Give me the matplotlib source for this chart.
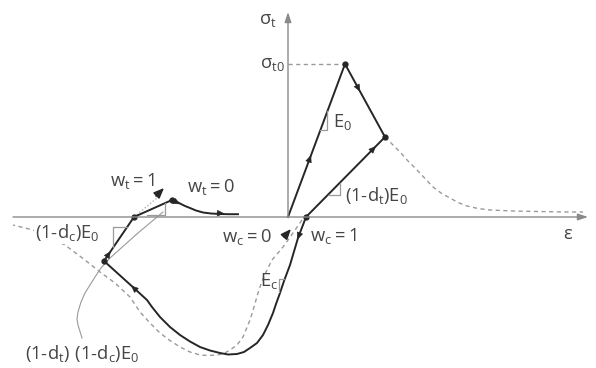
import numpy as np
import matplotlib
matplotlib.use("Agg")
import matplotlib.pyplot as plt

plt.rcParams["font.family"] = ["Open Sans", "DejaVu Sans"]
plt.rcParams["mathtext.fontset"] = "custom"
plt.rcParams["mathtext.rm"] = "Open Sans"
plt.rcParams["mathtext.it"] = "Open Sans"
plt.rcParams["mathtext.default"] = "regular"

# schematic stress-strain path (strain, stress)
load_x = [0.0, 0.57, 0.97]
load_y = [0.0, 1.53, 0.80]
reload_x = [0.18, 0.97]
reload_y = [0.0, 0.80]
comp_x = [0.18, 0.10, 0.02, -0.04, -0.08, -0.12, -0.15, -0.20, -0.25, -0.31, -0.38, -0.44, -0.51, -0.60,
          -0.68, -0.78, -0.88, -0.98, -1.08, -1.18, -1.28, -1.36, -1.41, -1.53, -1.84]
comp_y = [0.0, -0.21, -0.48, -0.64, -0.76, -0.87, -0.96, -1.08, -1.18, -1.26, -1.31, -1.35, -1.37, -1.375,
          -1.36, -1.335, -1.30, -1.245, -1.18, -1.10, -1.00, -0.90, -0.83, -0.72, -0.44]
ten2_x = [-1.84, -1.54, -1.16, -1.12, -1.08, -1.03, -0.98, -0.92, -0.85, -0.77, -0.68, -0.59, -0.50]
ten2_y = [-0.44, 0.0, 0.17, 0.155, 0.135, 0.11, 0.09, 0.065, 0.045, 0.035, 0.03, 0.028, 0.028]
soft_x = [0.97, 1.05, 1.12, 1.20, 1.29, 1.37, 1.45, 1.53, 1.62, 1.70, 1.79, 1.90, 2.02, 2.25, 2.50, 2.79, 2.95]
soft_y = [0.80, 0.72, 0.65, 0.56, 0.47, 0.385, 0.30, 0.24, 0.19, 0.145, 0.11, 0.085, 0.07, 0.06, 0.055, 0.05, 0.05]
env_x = [0.14, 0.05, -0.05, -0.16, -0.21, -0.26, -0.30, -0.34, -0.38, -0.45, -0.51, -0.58, -0.64, -0.71, -0.80,
         -0.88, -0.98, -1.08, -1.18, -1.28, -1.38, -1.48, -1.58, -1.73, -1.88, -2.03, -2.23, -2.55, -2.75]
env_y = [-0.03, -0.16, -0.30, -0.43, -0.53, -0.64, -0.76, -0.90, -1.03, -1.20, -1.28, -1.33, -1.365, -1.38, -1.385,
         -1.38, -1.35, -1.30, -1.235, -1.16, -1.06, -0.95, -0.80, -0.66, -0.55, -0.43, -0.28, -0.13, -0.08]
lead_x = [-1.25, -1.50, -1.78, -1.87, -1.93, -1.98, -2.03, -2.07, -2.10, -2.11, -2.10, -2.06]
lead_y = [0.05, -0.16, -0.41, -0.51, -0.60, -0.68, -0.76, -0.85, -0.95, -1.02, -1.08, -1.21]
dots_x = [0.57, 0.97, 0.18, -1.54, -1.84, -1.16]
dots_y = [1.53, 0.80, 0.0, 0.0, -0.44, 0.17]
sig_t0 = 1.53

BLACK = "#262626"
GRAY = "#9a9a9a"
TXT = "#454545"

fig = plt.figure(figsize=(5.96, 3.68), dpi=100)
ax = fig.add_axes([0, 0, 1, 1])
ax.set_xlim(-2.88, 3.08)
ax.set_ylim(-1.51, 2.17)
ax.axis("off")

# axes with arrows
ax.annotate("", xy=(3.00, 0), xytext=(-2.75, 0),
            arrowprops=dict(arrowstyle="-|>,head_length=0.6,head_width=0.2", color="#8a8a8a", lw=1.0,
                            shrinkA=0, shrinkB=0))
ax.annotate("", xy=(0, 2.05), xytext=(0, 0),
            arrowprops=dict(arrowstyle="-|>,head_length=0.6,head_width=0.2", color="#8a8a8a", lw=1.0,
                            shrinkA=0, shrinkB=0))

# dashed envelopes
ax.plot([0, load_x[1]], [sig_t0, sig_t0], color=GRAY, lw=1, ls=(0, (3, 2.5)))
ax.plot(soft_x, soft_y, color=GRAY, lw=1, ls=(0, (3, 2.5)))
ax.plot(env_x, env_y, color=GRAY, lw=1, ls=(0, (3, 2.5)))
ax.plot(lead_x, lead_y, color=GRAY, lw=0.8)
ax.plot([-1.54, -1.31], [0.0, 0.19], color="#b0b0b0", lw=1, ls=(0, (1, 1.5)))

# solid path
for xs, ys in [(load_x, load_y), (reload_x, reload_y), (comp_x, comp_y), (ten2_x, ten2_y)]:
    ax.plot(xs, ys, color=BLACK, lw=1.4, solid_joinstyle="round")
ax.plot(dots_x, dots_y, "o", color=BLACK, ms=3.5)


def head(p, q, frac=0.5):
    # small arrow head on segment p->q
    p = np.array(p); q = np.array(q)
    m = p + frac * (q - p)
    d = (q - p) / np.hypot(*(q - p))
    ax.annotate("", xy=m + 0.04 * d, xytext=m - 0.04 * d,
                arrowprops=dict(arrowstyle="-|>,head_length=0.45,head_width=0.2", color=BLACK, lw=0.5,
                                shrinkA=0, shrinkB=0))


head((0, 0), (0.57, 1.53), 0.38)
head((0.57, 1.53), (0.97, 0.80), 0.33)
head((0.18, 0), (0.97, 0.80), 0.85)
head((0.18, 0), (0.10, -0.21), 0.9)
head((-1.41, -0.83), (-1.84, -0.44), 0.3)
head((-1.84, -0.44), (-1.54, 0), 0.15)
head((-1.16, 0.17), (-1.08, 0.13), 0.6)
head((-0.85, 0.045), (-0.50, 0.028), 0.5)

# w arrows
ax.annotate("", xy=(-1.24, 0.29), xytext=(-1.32, 0.21),
            arrowprops=dict(arrowstyle="-|>,head_length=0.6,head_width=0.25", color=BLACK, lw=1.2,
                            shrinkA=0, shrinkB=0))
ax.annotate("", xy=(0.03, -0.12), xytext=(-0.04, -0.20),
            arrowprops=dict(arrowstyle="-|>,head_length=0.6,head_width=0.25", color=BLACK, lw=1.2,
                            shrinkA=0, shrinkB=0))

# slope markers
def corner(xs, ys):
    ax.plot(xs, ys, color=GRAY, lw=0.9)


corner([0.32, 0.39, 0.39], [0.87, 0.87, 1.06])
corner([0.40, 0.52, 0.52], [0.22, 0.22, 0.34])
corner([-1.61, -1.75, -1.75], [-0.10, -0.10, -0.30])
corner([-1.41, -1.23, -1.23], [0.02, 0.02, 0.14])
corner([-0.04, -0.09, -0.09], [-0.62, -0.62, -0.75])

fs = 13.2
kw = dict(color=TXT, fontsize=fs, va="center")
ax.text(-0.29, 1.97, r"$σ_t$", **kw)
ax.text(-0.03, 1.53, r"$σ_{t0}$", ha="right", **kw)
ax.text(0.45, 0.95, r"$E_0$", **kw)
ax.text(0.57, 0.21, r"$(1‐d_t)E_0$", **kw)
ax.text(2.75, -0.17, "ε", **kw)
ax.text(0.22, -0.19, r"$w_c = 1$", **kw)
ax.text(-0.66, -0.20, r"$w_c = 0$", **kw)
ax.text(-0.28, -0.64, r"$E_c$", **kw)
ax.text(-1.78, 0.36, r"$w_t = 1$", **kw)
ax.text(-1.01, 0.30, r"$w_t = 0$", **kw)
ax.text(-2.53, -0.16, r"$(1‐d_c)E_0$",
        bbox=dict(facecolor="white", edgecolor="none", pad=0.5), **kw)
ax.text(-2.63, -1.36, r"$(1‐d_t)\ (1‐d_c)E_0$", **kw)

fig.savefig("out.png", dpi=100)
